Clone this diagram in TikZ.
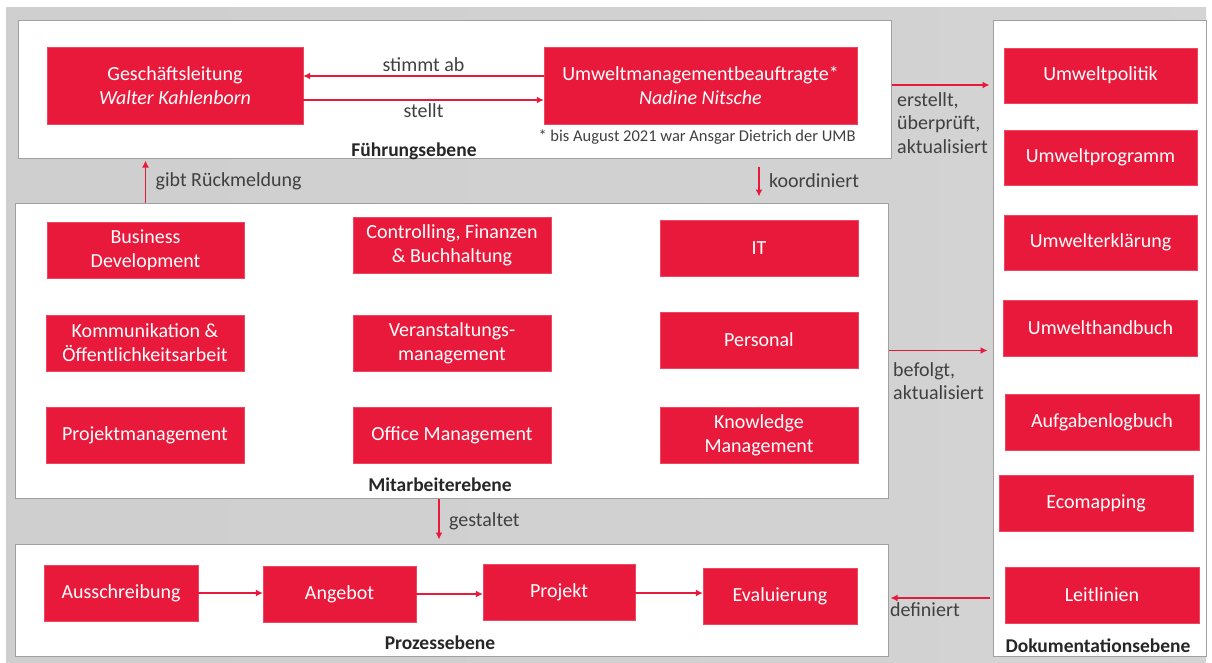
\documentclass[tikz,border=0pt]{standalone}
\usepackage{fontspec}
\setmainfont{Carlito}
\usetikzlibrary{arrows.meta}
\definecolor{umred}{HTML}{E8193A}
\definecolor{lbl}{HTML}{404040}
\definecolor{frame}{HTML}{A0A0A0}
\tikzset{
  rbox/.style={fill=umred, draw=umred!80!white, line width=0.4pt, text=white, align=center, font=\fontsize{20}{24}\selectfont, inner sep=0pt},
  level/.style={draw=frame, fill=white, line width=1pt, inner sep=0pt},
  lvllabel/.style={font=\fontsize{19.5}{22}\selectfont\bfseries, text=black!85},
  note/.style={font=\fontsize{20}{23.5}\selectfont, text=lbl, align=left},
  arr/.style={draw=umred, line width=1.5pt, -{Latex[length=7pt,width=7pt]}},
}
\begin{document}
\begin{tikzpicture}[x=1pt,y=-1pt]
\useasboundingbox (0,0) rectangle (1212,662);
\shade[left color=black!19, middle color=black!11, right color=black!17] (6,7) rectangle (1206,662);
% level frames
\node[level, minimum width=873pt, minimum height=138pt] (fe) at (454.5,89) {};
\node[level, minimum width=873pt, minimum height=295pt] (ma) at (451.5,350.5) {};
\node[level, minimum width=873pt, minimum height=112pt] (pe) at (451.5,600) {};
\node[level, minimum width=213pt, minimum height=636pt] (de) at (1099.5,338) {};
\node[lvllabel] (fel) at (414,151) {Führungsebene};
\node[lvllabel] (mal) at (440,485) {Mitarbeiterebene};
\node[lvllabel] (pel) at (440,643) {Prozessebene};
\node[lvllabel] (del) at (1098,646) {Dokumentationsebene};
% Führungsebene
\node[rbox, minimum width=256pt, minimum height=77pt] (gl) at (175,85.5) {Geschäftsleitung\\\itshape Walter Kahlenborn};
\node[rbox, minimum width=313pt, minimum height=77pt] (umb) at (700.5,85.5) {Umweltmanagementbeauftragte*\\\itshape Nadine Nitsche};
\node[font=\fontsize{16.5}{19}\selectfont, text=lbl] (fn) at (697,137) {* bis August 2021 war Ansgar Dietrich der UMB};
\draw[arr] ([yshift=9.5pt]umb.west) -- node[note, above=0pt] (l1) {stimmt ab} ([yshift=9.5pt]gl.east);
\draw[arr] ([yshift=-14.5pt]gl.east) -- node[note, below=0pt] (l2) {stellt} ([yshift=-14.5pt]umb.west);
% Mitarbeiterebene
\node[rbox, minimum width=197pt, minimum height=56pt] (bd) at (145.5,250) {Business\\Development};
\node[rbox, minimum width=198pt, minimum height=56pt] (cf) at (452,245) {Controlling, Finanzen\\\& Buchhaltung};
\node[rbox, minimum width=198pt, minimum height=56pt] (it) at (759,248) {IT};
\node[rbox, minimum width=198pt, minimum height=56pt] (ko) at (145,343) {Kommunikation \&\\Öffentlichkeitsarbeit};
\node[rbox, minimum width=198pt, minimum height=56pt] (vm) at (452,343) {Veranstaltungs-\\management};
\node[rbox, minimum width=198pt, minimum height=56pt] (pa) at (759,340) {Personal};
\node[rbox, minimum width=198pt, minimum height=56pt] (pm) at (145,435) {Projektmanagement};
\node[rbox, minimum width=198pt, minimum height=56pt] (om) at (452,435) {Office Management};
\node[rbox, minimum width=198pt, minimum height=56pt] (km) at (759,435) {Knowledge\\Management};
% Prozessebene
\node[rbox, minimum width=154pt, minimum height=56pt] (aus) at (121,593) {Ausschreibung};
\node[rbox, minimum width=153pt, minimum height=56pt] (ang) at (339.5,594) {Angebot};
\node[rbox, minimum width=152pt, minimum height=56pt] (prj) at (559,592) {Projekt};
\node[rbox, minimum width=154pt, minimum height=56pt] (eva) at (780,596) {Evaluierung};
\draw[arr, line width=1.2pt] (aus.east) -- (aus.east -| ang.west);
\draw[arr, line width=1.2pt] (ang.east) -- (ang.east -| prj.west);
\draw[arr, line width=1.2pt] ([yshift=-1pt]prj.east) -- ([yshift=-1pt]prj.east -| eva.west);
% Dokumentationsebene
\node[rbox, minimum width=193pt, minimum height=55pt] (up) at (1100.5,75.5) {Umweltpolitik};
\node[rbox, minimum width=193pt, minimum height=55pt] (upr) at (1100.5,157.5) {Umweltprogramm};
\node[rbox, minimum width=193pt, minimum height=55pt] (ue) at (1100.5,242.5) {Umwelterklärung};
\node[rbox, minimum width=194pt, minimum height=56pt] (uh) at (1100.5,328) {Umwelthandbuch};
\node[rbox, minimum width=194pt, minimum height=56pt] (alb) at (1102,422) {Aufgabenlogbuch};
\node[rbox, minimum width=194pt, minimum height=56pt] (eco) at (1096,503) {Ecomapping};
\node[rbox, minimum width=194pt, minimum height=56pt] (lei) at (1102,595) {Leitlinien};
% level connectors
\draw[arr] (ma.north -| bd.north) -- node[note, right=6pt] (l3) {gibt Rückmeldung} ([yshift=-2pt]fe.south -| bd.north);
\draw[arr, shorten <=8pt, shorten >=6pt] (fe.south -| it.north) -- node[note, right=6pt] (l4) {koordiniert} (ma.north -| it.north);
\draw[arr, shorten >=4pt] ([xshift=-12.5pt]ma.south) -- node[note, right=6pt] (l5) {gestaltet} ([xshift=-12.5pt]pe.north);
\draw[arr, shorten >=3pt] ([yshift=4pt]fe.east) -- ([yshift=4pt]fe.east -| de.west);
\node[note, anchor=north west, inner sep=0pt] (l6) at (897,92) {erstellt,\\überprüft,\\aktualisiert};
\draw[arr, shorten >=5pt] (ma.east) -- (ma.east -| de.west);
\node[note, anchor=north west, inner sep=0pt] (l7) at (893,362) {befolgt,\\aktualisiert};
\draw[arr, shorten <=3pt, shorten >=2pt] ([yshift=2pt]pe.east -| de.west) -- node[note, below=1pt, pos=0.65] (l8) {definiert} ([yshift=2pt]pe.east);
\end{tikzpicture}
\end{document}
